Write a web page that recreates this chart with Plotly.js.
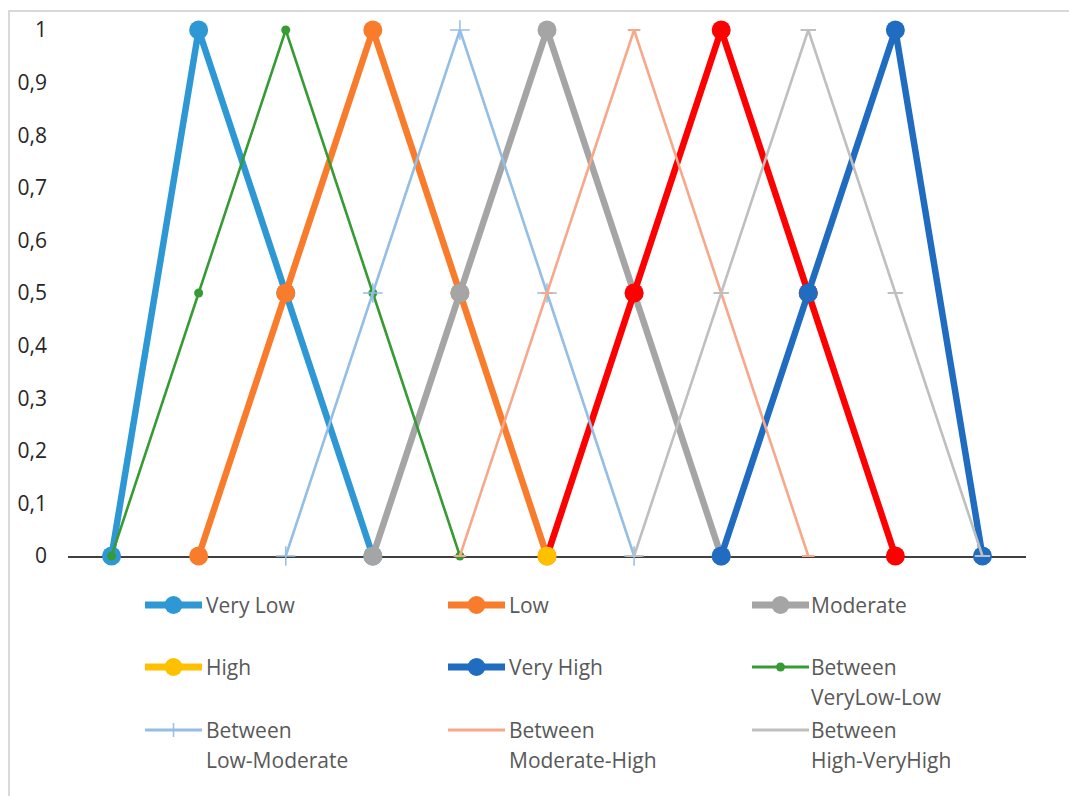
<!DOCTYPE html>
<html>
<head>
<meta charset="utf-8">
<script src="https://cdn.plot.ly/plotly-3.0.1.min.js"></script>
<style>html,body{margin:0;padding:0;background:#fff;}#chart{width:1069px;height:796px;}</style>
</head>
<body>
<div id="chart"></div>
<script>
// ---- data ----
const categories = ['1','2','3','4','5','6','7','8','9','10','11'];
const veryLow   = [0, 1, 0.5, 0, null, null, null, null, null, null, null];
const low       = [null, 0, 0.5, 1, 0.5, 0, null, null, null, null, null];
const moderate  = [null, null, null, 0, 0.5, 1, 0.5, 0, null, null, null];
const high      = [null, null, null, null, null, 0, 0.5, 1, 0.5, 0, null];
const veryHigh  = [null, null, null, null, null, null, null, 0, 0.5, 1, 0];
const betweenVeryLowLow    = [0, 0.5, 1, 0.5, 0, null, null, null, null, null, null];
const betweenLowModerate   = [null, null, 0, 0.5, 1, 0.5, 0, null, null, null, null];
const betweenModerateHigh  = [null, null, null, null, 0, 0.5, 1, 0.5, 0, null, null];
const betweenHighVeryHigh  = [null, null, null, null, null, null, 0, 0.5, 1, 0.5, 0];
const yTickVals = [0, 0.1, 0.2, 0.3, 0.4, 0.5, 0.6, 0.7, 0.8, 0.9, 1];
const yTickText = ['0', '0,1', '0,2', '0,3', '0,4', '0,5', '0,6', '0,7', '0,8', '0,9', '1'];
const seriesNames = ['Very Low', 'Low', 'Moderate', 'High', 'Very High',
  'Between VeryLow-Low', 'Between Low-Moderate', 'Between Moderate-High', 'Between High-VeryHigh'];

// ---- styles ----
const C = {
  veryLow: '#2E98D4', low: '#F87C2C', moderate: '#A5A5A5', highLegend: '#FFC000', highLine: '#FF0000',
  veryHigh: '#1F6CC1', bVL: '#379B34', bLM: '#94BEE4', bMH: '#F8A88A', bHVH: '#BFBFBF'
};
const FONT = '"Open Sans", "Liberation Sans", sans-serif';

function thick(name, y, color, markerColors) {
  return {
    type: 'scatter', mode: 'lines+markers', name: name, x: categories, y: y,
    line: {color: color, width: 6.5}, connectgaps: false, cliponaxis: false,
    marker: {symbol: 'circle', size: 19, color: markerColors || color, line: {width: 0}},
    hoverinfo: 'skip', showlegend: false
  };
}
function thin(name, y, color, symbol, size, lw) {
  return {
    type: 'scatter', mode: 'lines+markers', name: name, x: categories, y: y,
    line: {color: color, width: 2.6}, connectgaps: false, cliponaxis: false,
    marker: {symbol: symbol, size: size, color: color, line: {color: color, width: lw}},
    hoverinfo: 'skip', showlegend: false
  };
}

const highMarkerColors = high.map((v, i) => (i === 5 ? C.highLegend : C.highLine));

const traces = [
  thick(seriesNames[0], veryLow, C.veryLow),
  thick(seriesNames[1], low, C.low),
  thick(seriesNames[2], moderate, C.moderate),
  thick(seriesNames[3], high, C.highLine, highMarkerColors),
  thick(seriesNames[4], veryHigh, C.veryHigh),
  thin(seriesNames[5], betweenVeryLowLow, C.bVL, 'circle', 9, 0),
  thin(seriesNames[6], betweenLowModerate, C.bLM, 'cross-thin-open', 14, 1.5),
  thin(seriesNames[7], betweenModerateHigh, C.bMH, 'line-ew-open', 9, 2),
  thin(seriesNames[8], betweenHighVeryHigh, C.bHVH, 'line-ew-open', 11, 2)
];

// ---- layout geometry (pixels -> paper) ----
const W = 1069, H = 796, ML = 68, MR = 43, MT = 30, MB = 240;
const PW = W - ML - MR, PH = H - MT - MB;
const px = x => (x - ML) / PW;
const py = y => (H - MB - y) / PH;

const shapes = [{
  type: 'rect', xref: 'paper', yref: 'paper', layer: 'below',
  x0: px(9), x1: px(1085), y0: py(810), y1: py(11),
  line: {color: '#D9D9D9', width: 2}, fillcolor: 'rgba(0,0,0,0)'
}];
const annotations = [];

// manual legend (3 columns x 3 rows)
const colSym = [145, 448, 752], colText = [204, 507, 809], rowY = [605, 667, 730];
const legendItems = [
  {label: ['Very Low'], color: C.veryLow, w: 7, dot: 9},
  {label: ['Low'], color: C.low, w: 7, dot: 9},
  {label: ['Moderate'], color: C.moderate, w: 7, dot: 9},
  {label: ['High'], color: C.highLegend, w: 7, dot: 9},
  {label: ['Very High'], color: C.veryHigh, w: 7, dot: 9},
  {label: ['Between', 'VeryLow-Low'], color: C.bVL, w: 3, dot: 4.5},
  {label: ['Between', 'Low-Moderate'], color: C.bLM, w: 3, plus: true},
  {label: ['Between', 'Moderate-High'], color: C.bMH, w: 3},
  {label: ['Between', 'High-VeryHigh'], color: C.bHVH, w: 3}
];
legendItems.forEach((it, i) => {
  const c = i % 3, r = Math.floor(i / 3);
  const xs = colSym[c], y = rowY[r], xe = xs + 57, xm = (xs + xe) / 2;
  shapes.push({type: 'line', xref: 'paper', yref: 'paper', x0: px(xs), x1: px(xe), y0: py(y), y1: py(y),
    line: {color: it.color, width: it.w}});
  if (it.dot) {
    shapes.push({type: 'circle', xref: 'paper', yref: 'paper', xsizemode: 'pixel', ysizemode: 'pixel',
      xanchor: px(xm), yanchor: py(y), x0: -it.dot, x1: it.dot, y0: -it.dot, y1: it.dot,
      fillcolor: it.color, line: {width: 0}});
  }
  if (it.plus) {
    shapes.push({type: 'line', xref: 'paper', yref: 'paper', x0: px(xm), x1: px(xm), y0: py(y - 7), y1: py(y + 7),
      line: {color: it.color, width: 1.5}});
  }
  it.label.forEach((t, k) => {
    annotations.push({xref: 'paper', yref: 'paper', x: px(colText[c]), y: py(y + 30 * k),
      xanchor: 'left', yanchor: 'middle', showarrow: false, text: t,
      font: {family: FONT, size: 21, color: '#595959'}});
  });
});

const layout = {
  width: W, height: H,
  margin: {l: ML, r: MR, t: MT, b: MB, pad: 0},
  paper_bgcolor: '#FFFFFF', plot_bgcolor: '#FFFFFF',
  font: {family: FONT, size: 21, color: '#262626'},
  showlegend: false,
  xaxis: {
    type: 'category', range: [-0.5, 10.5], showticklabels: false, ticks: '',
    showgrid: false, zeroline: false, showline: true, linecolor: '#404040', linewidth: 1.5,
    layer: 'below traces', fixedrange: true
  },
  yaxis: {
    range: [0, 1], tickvals: yTickVals, ticktext: yTickText, ticks: '',
    showgrid: false, zeroline: false, showline: false, ticklabelstandoff: 20,
    tickfont: {family: FONT, size: 21, color: '#262626'}, fixedrange: true
  },
  shapes: shapes,
  annotations: annotations
};

Plotly.newPlot('chart', traces, layout, {displayModeBar: false, staticPlot: true});
</script>
</body>
</html>
